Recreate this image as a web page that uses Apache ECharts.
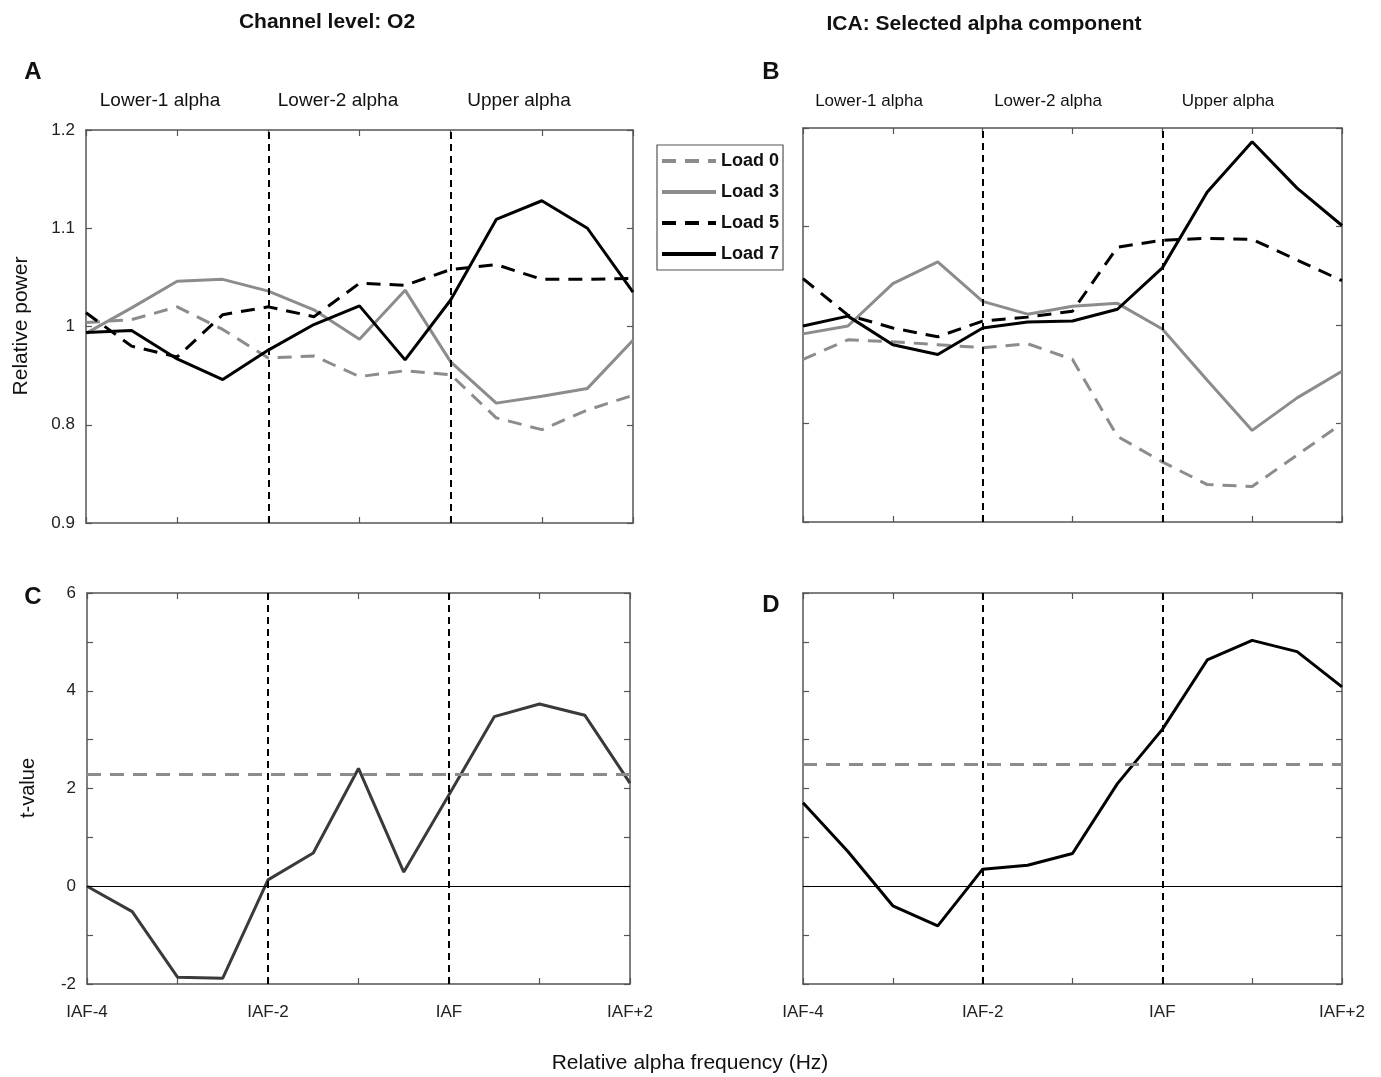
<!DOCTYPE html>
<html>
<head>
<meta charset="utf-8">
<script src="https://cdn.jsdelivr.net/npm/echarts@6/dist/echarts.min.js"></script>
<style>
html,body{margin:0;padding:0;background:#fff;}
#chart{width:1381px;height:1077px;}
</style>
</head>
<body>
<div id="chart"></div>
<script>
// ---- data ----
var freqs = [-4, -3.5, -3, -2.5, -2, -1.5, -1, -0.5, 0, 0.5, 1, 1.5, 2];

// Panel A: Channel level O2, relative power
var load0A = [1.004, 1.007, 1.020, 0.997, 0.968, 0.970, 0.949, 0.955, 0.951, 0.907, 0.895, 0.915, 0.930];
var load3A = [0.993, 1.019, 1.046, 1.048, 1.036, 1.017, 0.987, 1.037, 0.964, 0.922, 0.929, 0.937, 0.986];
var load5A = [1.014, 0.980, 0.969, 1.012, 1.020, 1.010, 1.044, 1.042, 1.058, 1.063, 1.048, 1.048, 1.049];
var load7A = [0.994, 0.996, 0.967, 0.946, 0.976, 1.002, 1.021, 0.966, 1.027, 1.109, 1.128, 1.100, 1.035];

// Panel B: ICA selected alpha component, relative power
var load0B = [0.965, 0.985, 0.983, 0.980, 0.977, 0.981, 0.965, 0.887, 0.861, 0.838, 0.836, 0.868, 0.900];
var load3B = [0.991, 0.999, 1.042, 1.064, 1.024, 1.011, 1.019, 1.022, 0.996, 0.944, 0.893, 0.926, 0.953];
var load5B = [1.047, 1.010, 0.997, 0.988, 1.004, 1.008, 1.014, 1.079, 1.086, 1.088, 1.087, 1.066, 1.045];
var load7B = [0.999, 1.009, 0.980, 0.970, 0.997, 1.003, 1.004, 1.016, 1.058, 1.135, 1.186, 1.139, 1.101];

// Panels C, D: t-values and significance thresholds
var tC = [0.00, -0.52, -1.86, -1.88, 0.13, 0.68, 2.41, 0.29, 1.87, 3.47, 3.73, 3.50, 2.11];
var tD = [1.71, 0.71, -0.40, -0.81, 0.35, 0.43, 0.67, 2.10, 3.21, 4.63, 5.03, 4.80, 4.08];
var thresholdC = 2.29;
var thresholdD = 2.49;

// band boundaries (vertical dashed lines)
var bandEdges = [-2, 0];
var bandNames = ['Lower-1 alpha', 'Lower-2 alpha', 'Upper alpha'];

// tick labels
var xTickValues = [-4, -2, 0, 2];
var xTickLabels = ['IAF-4', 'IAF-2', 'IAF', 'IAF+2'];
var yTickValuesA = ['0.8', '0.9', '1.0', '1.1', '1.2'];
var yTickLabelsA = ['0.9', '0.8', '1', '1.1', '1.2'];
var legendNames = ['Load 0', 'Load 3', 'Load 5', 'Load 7'];

// ---- chart ----
var FONT = 'Liberation Sans, Arial, Helvetica, sans-serif';
var GREY = '#8c8c8c';
var AXIS = '#555555';

function pairs(ys) { return freqs.map(function (f, i) { return [f, ys[i]]; }); }

var grids = [
  { left: 86, top: 130, width: 547, height: 393 },
  { left: 803, top: 128, width: 539, height: 394 },
  { left: 87, top: 593, width: 543, height: 391 },
  { left: 803, top: 593, width: 539, height: 391 }
];

function xAx(i, pos, showLabels) {
  return {
    type: 'value', gridIndex: i, position: pos, min: -4, max: 2, interval: 1,
    axisLine: { show: true, onZero: false, lineStyle: { color: AXIS, width: 1.5 } },
    axisTick: { show: true, inside: true, length: 6, lineStyle: { color: AXIS, width: 1.2 } },
    splitLine: { show: false },
    axisLabel: {
      show: showLabels, margin: 20, fontSize: 17, color: '#222', fontFamily: FONT,
      formatter: function (v) {
        var k = xTickValues.indexOf(v);
        return k >= 0 ? xTickLabels[k] : '';
      }
    }
  };
}
function yAx(i, pos, kind, showLabels) {
  var o = {
    type: 'value', gridIndex: i, position: pos,
    axisLine: { show: true, onZero: false, lineStyle: { color: AXIS, width: 1.5 } },
    axisTick: { show: true, inside: true, length: 6, lineStyle: { color: AXIS, width: 1.2 } },
    splitLine: { show: false },
    axisLabel: { show: showLabels, margin: 11, fontSize: 17, color: '#222', fontFamily: FONT }
  };
  if (kind === 'power') {
    o.min = 0.8; o.max = 1.2; o.interval = 0.1;
    o.axisLabel.formatter = function (v) {
      var k = yTickValuesA.indexOf(v.toFixed(1));
      return k >= 0 ? yTickLabelsA[k] : '';
    };
  } else {
    o.min = -2; o.max = 6; o.interval = 1;
    o.axisLabel.formatter = function (v) { return (Math.round(v) % 2 === 0) ? String(Math.round(v)) : ''; };
  }
  return o;
}

var xAxes = [
  xAx(0, 'bottom', false), xAx(1, 'bottom', false), xAx(2, 'bottom', true), xAx(3, 'bottom', true),
  xAx(0, 'top', false), xAx(1, 'top', false), xAx(2, 'top', false), xAx(3, 'top', false)
];
var yAxes = [
  yAx(0, 'left', 'power', true), yAx(1, 'left', 'power', false), yAx(2, 'left', 't', true), yAx(3, 'left', 't', false),
  yAx(0, 'right', 'power', false), yAx(1, 'right', 'power', false), yAx(2, 'right', 't', false), yAx(3, 'right', 't', false)
];

function vLines() {
  return {
    silent: true, symbol: ['none', 'none'], animation: false,
    label: { show: false },
    lineStyle: { color: '#000', width: 2, type: [7, 5] },
    data: bandEdges.map(function (e) { return { xAxis: e }; })
  };
}

var styles = {
  'Load 0': { color: GREY, type: [14, 9] },
  'Load 3': { color: GREY, type: 'solid' },
  'Load 5': { color: '#000', type: [14, 9] },
  'Load 7': { color: '#000', type: 'solid' }
};

function loadSeries(name, ys, gi, withMarks) {
  var s = {
    name: name, type: 'line', xAxisIndex: gi, yAxisIndex: gi,
    data: pairs(ys), symbol: 'none', animation: false, z: 3,
    lineStyle: { color: styles[name].color, width: 3, type: styles[name].type },
    itemStyle: { color: styles[name].color }
  };
  if (withMarks) s.markLine = vLines();
  return s;
}

function tSeries(ys, gi, color, thr) {
  var ml = vLines();
  ml.data = ml.data.concat([
    { yAxis: 0, lineStyle: { color: '#000', width: 1.2, type: 'solid' } },
    { yAxis: thr, lineStyle: { color: GREY, width: 3, type: [14, 9] } }
  ]);
  return {
    name: 't', type: 'line', xAxisIndex: gi, yAxisIndex: gi,
    data: pairs(ys), symbol: 'none', animation: false, z: 3,
    lineStyle: { color: color, width: 3 },
    markLine: ml
  };
}

var series = [
  loadSeries('Load 0', load0A, 0, true),
  loadSeries('Load 3', load3A, 0, false),
  loadSeries('Load 5', load5A, 0, false),
  loadSeries('Load 7', load7A, 0, false),
  loadSeries('Load 0', load0B, 1, true),
  loadSeries('Load 3', load3B, 1, false),
  loadSeries('Load 5', load5B, 1, false),
  loadSeries('Load 7', load7B, 1, false),
  tSeries(tC, 2, '#3a3a3a', thresholdC),
  tSeries(tD, 3, '#000', thresholdD)
];

function txt(x, y, s, size, weight, align) {
  return {
    type: 'text', x: x, y: y, silent: true,
    style: { text: s, fontSize: size, fontWeight: weight || 'normal', fontFamily: FONT,
             fill: '#111', align: align || 'center', verticalAlign: 'middle' }
  };
}
function vtxt(x, y, s, size) {
  return {
    type: 'text', x: x, y: y, rotation: Math.PI / 2, silent: true,
    style: { text: s, fontSize: size, fontFamily: FONT, fill: '#111', align: 'center', verticalAlign: 'middle' }
  };
}

var graphics = [
  txt(327, 22, 'Channel level: O2', 21, 'bold'),
  txt(984, 24, 'ICA: Selected alpha component', 21, 'bold'),
  txt(33, 72, 'A', 24, 'bold'),
  txt(771, 72, 'B', 24, 'bold'),
  txt(33, 597, 'C', 24, 'bold'),
  txt(771, 605, 'D', 24, 'bold'),
  txt(160, 101, bandNames[0], 19),
  txt(338, 101, bandNames[1], 19),
  txt(519, 101, bandNames[2], 19),
  txt(869, 101, bandNames[0], 17),
  txt(1048, 101, bandNames[1], 17),
  txt(1228, 101, bandNames[2], 17),
  vtxt(21, 326, 'Relative power', 21),
  vtxt(28, 788, 't-value', 20),
  txt(690, 1063, 'Relative alpha frequency (Hz)', 21)
];

var option = {
  backgroundColor: '#fff',
  animation: false,
  textStyle: { fontFamily: FONT },
  grid: grids,
  xAxis: xAxes,
  yAxis: yAxes,
  legend: {
    data: legendNames, orient: 'vertical', left: 657, top: 145,
    backgroundColor: '#fff', borderColor: '#555', borderWidth: 1.2,
    padding: [7, 4, 7, 3], itemWidth: 54, itemHeight: 18, itemGap: 13,
    selectedMode: false,
    itemStyle: { opacity: 0, borderWidth: 0 },
    lineStyle: { width: 4 },
    textStyle: { fontSize: 18, fontWeight: 'bold', color: '#111', fontFamily: FONT }
  },
  series: series,
  graphic: graphics
};

var chart = echarts.init(document.getElementById('chart'), null, { renderer: 'canvas' });
chart.setOption(option);
</script>
</body>
</html>
